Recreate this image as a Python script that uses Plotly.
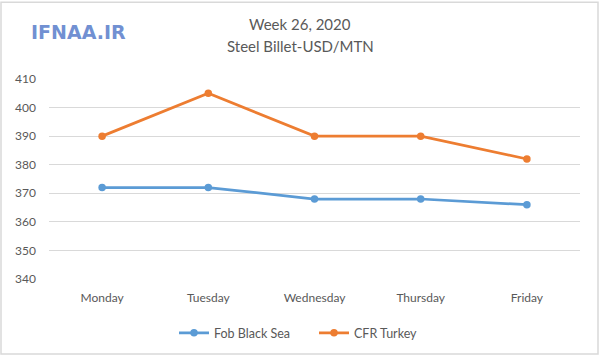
import plotly.graph_objects as go

days = ["Monday", "Tuesday", "Wednesday", "Thursday", "Friday"]
fob_black_sea = [372, 372, 368, 368, 366]
cfr_turkey = [390, 405, 390, 390, 382]
y_ticks = [340, 350, 360, 370, 380, 390, 400, 410]

FONT = "Lato, Open Sans, sans-serif"
W, H = 600, 360
L, R, T, B = 49, 20, 79, 78
PW, PH = W - L - R, H - T - B

def px(x):
    return (x - L) / PW

def py(y):
    return (H - B - y) / PH

fig = go.Figure()
fig.add_trace(go.Scatter(x=days, y=fob_black_sea, name="Fob Black Sea", mode="lines+markers",
                         line=dict(color="#5B9BD5", width=2.75), marker=dict(size=7.5, color="#5B9BD5")))
fig.add_trace(go.Scatter(x=days, y=cfr_turkey, name="CFR Turkey", mode="lines+markers",
                         line=dict(color="#ED7D31", width=2.75), marker=dict(size=7.5, color="#ED7D31")))

fig.update_layout(
    width=W, height=H,
    paper_bgcolor="white", plot_bgcolor="white",
    margin=dict(l=L, r=R, t=T, b=B),
    font=dict(family=FONT, size=12, color="#595959"),
    showlegend=True,
    legend=dict(orientation="h", x=px(174), xanchor="left", y=py(337), yanchor="middle",
                entrywidth=95, entrywidthmode="pixels",
                font=dict(family=FONT, size=12.5, color="#595959")),
    xaxis=dict(showgrid=False, showline=False, ticks="", tickfont=dict(size=12),
               range=[-0.5, 4.5], ticklabelstandoff=10),
    yaxis=dict(range=[340, 410], tickvals=y_ticks, showgrid=True, gridcolor="#D9D9D9",
               gridwidth=1, zeroline=False, showline=False, ticks="", ticklabelstandoff=12,
               tickfont=dict(size=12)),
    shapes=[dict(type="rect", xref="paper", yref="paper", x0=px(1), x1=px(W - 2),
                 y0=py(H - 2), y1=py(1), line=dict(color="#D9D9D9", width=1.5))],
    annotations=[
        dict(text="<b>IFNAA.IR</b>", xref="paper", yref="paper",
             x=px(29), xanchor="left", y=py(31), yanchor="middle", showarrow=False,
             font=dict(family="DejaVu Sans, sans-serif", size=19, color="#7190D2")),
        dict(text="Week 26, 2020", xref="paper", yref="paper",
             x=px(300), xanchor="center", y=py(23), yanchor="middle", showarrow=False,
             font=dict(family=FONT, size=15, color="#595959")),
        dict(text="Steel Billet-USD/MTN", xref="paper", yref="paper",
             x=px(300), xanchor="center", y=py(46), yanchor="middle", showarrow=False,
             font=dict(family=FONT, size=15, color="#595959")),
    ],
)
fig.write_html("out.html", config={"displayModeBar": False},
               post_script="document.body.style.margin='0px';")
